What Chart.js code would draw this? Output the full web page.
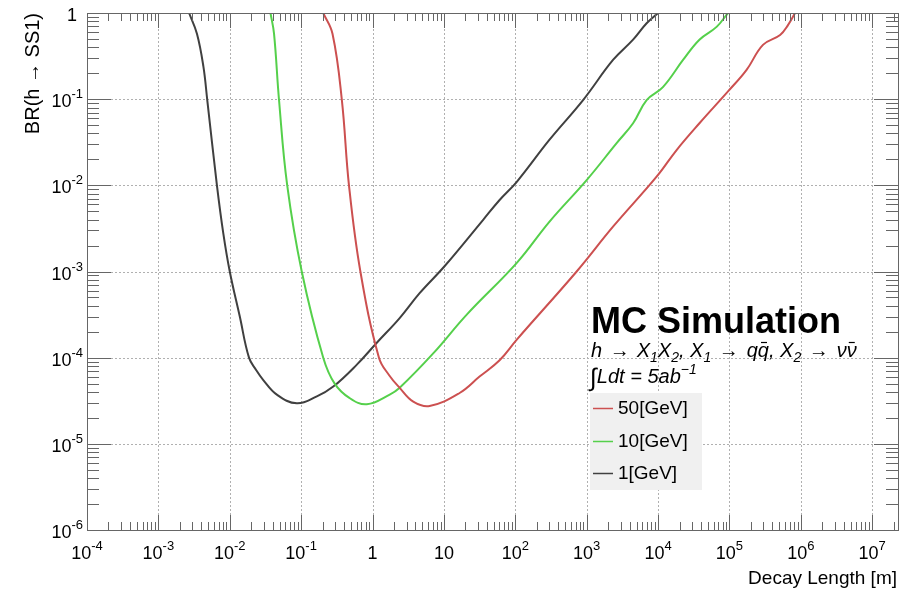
<!DOCTYPE html>
<html>
<head>
<meta charset="utf-8">
<script src="https://cdn.jsdelivr.net/npm/chart.js@4.4.0/dist/chart.umd.min.js"></script>
<style>
  html, body { margin: 0; padding: 0; background: #fff; }
</style>
</head>
<body>
<canvas id="c" width="912" height="595"></canvas>
<script>
// decay length [m] vs BR(h -> SS1), one pair per mass
const len50 = [0.204, 0.275, 0.372, 0.468, 0.676, 1.23, 1.70, 2.40, 3.72, 6.31, 16.6, 31.6, 60.3, 105, 724, 2340, 9550, 18200, 38000, 95500, 174000, 295000, 513000, 661000, 832000];
const br50  = [1, 0.575, 0.0977, 0.01, 1.0e-3, 1.0e-4, 6.3e-5, 4.47e-5, 3.09e-5, 2.75e-5, 3.89e-5, 6.03e-5, 9.33e-5, 1.62e-4, 1.0e-3, 3.31e-3, 1.26e-2, 2.57e-2, 5.25e-2, 0.123, 0.219, 0.427, 0.556, 0.724, 1];

const len10 = [0.0372, 0.0417, 0.0490, 0.0638, 0.102, 0.204, 0.295, 0.479, 0.832, 1.74, 2.40, 7.08, 20.9, 105, 302, 1000, 2630, 4470, 6920, 11700, 22400, 38000, 66100, 95500];
const br10  = [1, 0.575, 0.0977, 0.01, 1.0e-3, 1.0e-4, 5.0e-5, 3.39e-5, 2.88e-5, 3.72e-5, 4.47e-5, 1.12e-4, 3.16e-4, 1.26e-3, 3.80e-3, 1.15e-2, 3.09e-2, 5.25e-2, 9.77e-2, 0.138, 0.285, 0.49, 0.69, 1];

const len1 = [2.69e-3, 3.47e-3, 4.27e-3, 4.84e-3, 6.61e-3, 8.13e-3, 1.0e-2, 1.38e-2, 1.86e-2, 2.34e-2, 2.95e-2, 4.57e-2, 8.71e-2, 0.166, 0.282, 0.603, 1.14, 2.40, 4.57, 10.2, 35.5, 60.3, 105, 302, 891, 2340, 4470, 6920, 10000];
const br1  = [1, 0.575, 0.240, 0.0977, 0.01, 2.75e-3, 1.0e-3, 3.02e-4, 1.0e-4, 7.2e-5, 5.5e-5, 3.72e-5, 2.95e-5, 3.55e-5, 4.62e-5, 8.3e-5, 1.48e-4, 2.88e-4, 5.6e-4, 1.15e-3, 3.98e-3, 6.76e-3, 1.10e-2, 3.39e-2, 9.77e-2, 0.285, 0.49, 0.76, 1];

const seriesNames = ["50[GeV]", "10[GeV]", "1[GeV]"];
const xDecades = [-4, -3, -2, -1, 0, 1, 2, 3, 4, 5, 6, 7];
const yDecades = [-6, -5, -4, -3, -2, -1, 0];

const FONT = "'Liberation Sans', Arial, sans-serif";

function pts(xs, ys) {
    return xs.map((x, i) => ({ x: x, y: ys[i] }));
}

// ROOT style frame, inner ticks, grid, labels, legend
const rootStyle = {
    id: "rootStyle",
    beforeDatasetsDraw(chart) {
        const ctx = chart.ctx;
        const a = chart.chartArea;
        const xs = chart.scales.x, ys = chart.scales.y;
        ctx.save();
        ctx.strokeStyle = "#b0b0b0";
        ctx.lineWidth = 1;
        ctx.setLineDash([2, 2]);
        xDecades.forEach(e => {
            const px = Math.round(xs.getPixelForValue(Math.pow(10, e))) + 0.5;
            if (px <= a.left + 1 || px >= a.right - 1) return;
            ctx.beginPath(); ctx.moveTo(px, a.top); ctx.lineTo(px, a.bottom); ctx.stroke();
        });
        yDecades.forEach(e => {
            const py = Math.round(ys.getPixelForValue(Math.pow(10, e))) + 0.5;
            if (py <= a.top + 1 || py >= a.bottom - 1) return;
            ctx.beginPath(); ctx.moveTo(a.left, py); ctx.lineTo(a.right, py); ctx.stroke();
        });
        ctx.restore();
    },
    afterDatasetsDraw(chart) {
        const ctx = chart.ctx;
        const a = chart.chartArea;
        const xs = chart.scales.x, ys = chart.scales.y;
        ctx.save();
        ctx.strokeStyle = "#666";
        ctx.lineWidth = 1;

        // x ticks, bottom and top
        xDecades.forEach(e => {
            for (let k = 1; k <= 9; k++) {
                const v = k * Math.pow(10, e);
                if (v < xs.min || v > xs.max) continue;
                const px = Math.round(xs.getPixelForValue(v)) + 0.5;
                const len = k === 1 ? 15 : 8;
                ctx.beginPath();
                ctx.moveTo(px, a.bottom); ctx.lineTo(px, a.bottom - len);
                ctx.moveTo(px, a.top); ctx.lineTo(px, a.top + len);
                ctx.stroke();
            }
        });
        // y ticks, left and right
        yDecades.forEach(e => {
            for (let k = 1; k <= 9; k++) {
                const v = k * Math.pow(10, e);
                if (v < ys.min || v > ys.max * 1.0001) continue;
                const py = Math.round(ys.getPixelForValue(v)) + 0.5;
                const len = k === 1 ? 24 : 12;
                ctx.beginPath();
                ctx.moveTo(a.left, py); ctx.lineTo(a.left + len, py);
                ctx.moveTo(a.right, py); ctx.lineTo(a.right - len, py);
                ctx.stroke();
            }
        });
        // frame
        ctx.strokeRect(Math.round(a.left) + 0.5, Math.round(a.top) + 0.5,
                       Math.round(a.right - a.left), Math.round(a.bottom - a.top));

        // tick labels
        ctx.fillStyle = "#000";
        ctx.textBaseline = "alphabetic";
        function parts(e) {
            if (e === 0) return ["1", ""];
            if (e === 1) return ["10", ""];
            return ["10", String(e)];
        }
        xDecades.forEach(e => {
            const px = xs.getPixelForValue(Math.pow(10, e));
            const [b, s] = parts(e);
            ctx.font = "18px " + FONT;
            const wb = ctx.measureText(b).width;
            ctx.font = "13px " + FONT;
            const we = s ? ctx.measureText(s).width : 0;
            let x0 = px - (wb + we) / 2;
            ctx.textAlign = "left";
            ctx.font = "18px " + FONT;
            ctx.fillText(b, x0, 559);
            if (s) { ctx.font = "13px " + FONT; ctx.fillText(s, x0 + wb, 550); }
        });
        yDecades.forEach(e => {
            const py = ys.getPixelForValue(Math.pow(10, e));
            const [b, s] = parts(e);
            ctx.textAlign = "left";
            if (!s) {
                ctx.font = "18px " + FONT;
                const wb = ctx.measureText(b).width;
                ctx.fillText(b, 77 - wb, py + 8);
                return;
            }
            ctx.font = "13px " + FONT;
            const we = ctx.measureText(s).width;
            ctx.font = "18px " + FONT;
            const wb = ctx.measureText(b).width;
            const x0 = 83 - we - wb;
            ctx.fillText(b, x0, py + 8);
            ctx.font = "13px " + FONT;
            ctx.fillText(s, x0 + wb, py - 1);
        });

        // axis titles
        ctx.font = "19px " + FONT;
        ctx.textAlign = "right";
        ctx.fillText("Decay Length [m]", 897, 584);
        ctx.save();
        ctx.translate(39, 13);
        ctx.rotate(-Math.PI / 2);
        ctx.textAlign = "right";
        ctx.font = "20px " + FONT;
        ctx.fillText("BR(h \u2192 SS1)", 0, 0);
        ctx.restore();

        // annotation
        ctx.textAlign = "left";
        ctx.font = "bold 36px " + FONT;
        ctx.fillText("MC Simulation", 591, 333);

        function rich(list, x, y) {
            let cx = x;
            list.forEach(p => {
                const size = p.size || (p.sub || p.sup ? 14 : 20);
                ctx.font = (p.up ? "" : "italic ") + size + "px " + FONT;
                const dy = (p.sub ? 5 : p.sup ? -9 : 0) + (p.dy || 0);
                ctx.fillText(p.t, cx, y + dy);
                const w = ctx.measureText(p.t).width;
                if (p.bar) {
                    ctx.beginPath();
                    ctx.lineWidth = 1.2;
                    ctx.strokeStyle = "#000";
                    ctx.moveTo(cx + w - 8, y - 14.5);
                    ctx.lineTo(cx + w - 2, y - 14.5);
                    ctx.stroke();
                }
                cx += w + (p.gap || 0);
            });
        }
        rich([
            { t: "h ", gap: 2 }, { t: "\u2192", up: true, gap: 7 }, { t: "X" }, { t: "1", sub: true },
            { t: "X" }, { t: "2", sub: true }, { t: ", X" }, { t: "1", sub: true },
            { t: " ", gap: 2 }, { t: "\u2192", up: true, gap: 8 }, { t: "q" }, { t: "q", bar: true },
            { t: ", X" }, { t: "2", sub: true }, { t: " ", gap: 2 }, { t: "\u2192", up: true, gap: 8 },
            { t: "\u03bd" }, { t: "\u03bd", bar: true }
        ], 591, 357);
        rich([
            { t: "\u222b", up: true, size: 25, dy: 3 }, { t: "Ldt = 5ab" }, { t: "\u22121", sup: true }
        ], 590, 383);

        // legend
        ctx.fillStyle = "#f0f0f0";
        ctx.fillRect(590, 393, 112, 97);
        const rows = [408, 441, 473];
        chart.data.datasets.forEach((ds, i) => {
            const y = rows[i];
            ctx.strokeStyle = ds.borderColor;
            ctx.lineWidth = 1.5;
            ctx.beginPath();
            ctx.moveTo(593, y + 0.5); ctx.lineTo(613, y + 0.5);
            ctx.stroke();
            ctx.fillStyle = "#000";
            ctx.font = "19px " + FONT;
            ctx.textBaseline = "middle";
            ctx.fillText(ds.label, 618, y + 1);
            ctx.textBaseline = "alphabetic";
        });
        ctx.restore();
    }
};

const lineStyle = {
    showLine: true,
    pointRadius: 0,
    borderWidth: 2,
    tension: 0.4,
    fill: false
};

new Chart(document.getElementById("c"), {
    type: "scatter",
    data: {
        datasets: [
            Object.assign({ label: seriesNames[0], data: pts(len50, br50), borderColor: "rgb(204,80,80)" }, lineStyle),
            Object.assign({ label: seriesNames[1], data: pts(len10, br10), borderColor: "rgb(85,208,75)" }, lineStyle),
            Object.assign({ label: seriesNames[2], data: pts(len1, br1), borderColor: "rgb(64,64,64)" }, lineStyle)
        ]
    },
    options: {
        responsive: false,
        animation: false,
        layout: { padding: { top: 13, right: 14, left: 0, bottom: 0 } },
        plugins: { legend: { display: false }, tooltip: { enabled: false } },
        scales: {
            x: {
                type: "logarithmic",
                min: 1e-4,
                max: 2.3e7,
                grid: { display: false },
                border: { display: false },
                ticks: { display: false },
                afterFit: s => { s.height = 65; }
            },
            y: {
                type: "logarithmic",
                min: 1e-6,
                max: 1,
                grid: { display: false },
                border: { display: false },
                ticks: { display: false },
                afterFit: s => { s.width = 87; }
            }
        }
    },
    plugins: [rootStyle]
});
</script>
</body>
</html>
